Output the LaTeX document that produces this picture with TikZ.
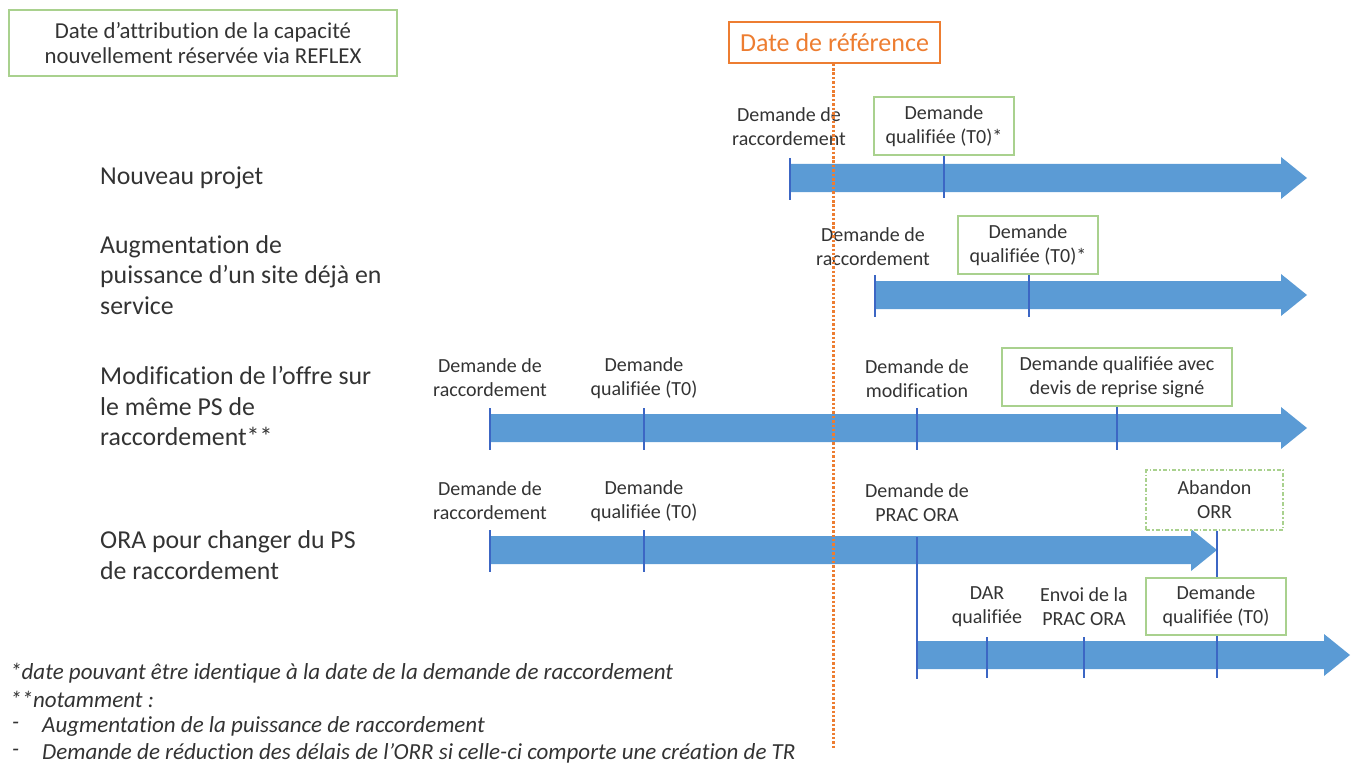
\documentclass[tikz,border=0pt]{standalone}
\usepackage{fontspec}
\setmainfont{Carlito}[Ligatures=NoCommon]
\usetikzlibrary{calc}
\definecolor{barblue}{HTML}{5B9BD5}
\definecolor{tickblue}{HTML}{3C66C4}
\definecolor{boxgreen}{HTML}{A9D18E}
\definecolor{refor}{HTML}{ED7D31}
\definecolor{txt}{HTML}{333333}
\tikzset{
  lbl/.style={text=txt, font=\fontsize{20}{24}\selectfont, align=center, inner sep=0pt},
  rowlbl/.style={text=txt, font=\fontsize{25.8}{30.5}\selectfont, align=left, anchor=west, inner sep=0pt},
  note/.style={text=txt, font=\fontsize{23}{26}\selectfont\itshape, anchor=west, inner sep=0pt},
  gbox/.style={draw=boxgreen, line width=1.6pt, minimum height=58pt, text=txt, font=\fontsize{20}{24}\selectfont, align=center, inner sep=1pt},
  tickln/.style={draw=tickblue, line width=2.2pt},
  bar/.style={fill=barblue},
}
\newcommand\tlbar[4]{% name, start x, y, tip x
  \coordinate (#1s) at (#2,#3);
  \coordinate (#1e) at (#4,#3);
  \fill[bar] (#2,#3-14) -- (#4-26,#3-14) -- (#4-26,#3-21) -- (#4,#3) -- (#4-26,#3+21) -- (#4-26,#3+14) -- (#2,#3+14) -- cycle;
}
\begin{document}
\begin{tikzpicture}[x=1pt,y=-1pt]
\useasboundingbox (0,0) rectangle (1355,765);

% top-left box
\node[draw=boxgreen, line width=1.6pt, minimum width=388pt, minimum height=66pt, text=txt, font=\fontsize{22.8}{25.5}\selectfont, align=center, inner sep=1pt] (reflex) at (203,43) {Date d’attribution de la capacité\\nouvellement réservée via REFLEX};

% reference date
\node[draw=refor, line width=1.4pt, minimum width=211pt, minimum height=41pt, text=refor, font=\fontsize{26}{30}\selectfont, inner sep=1pt] (ref) at (834.5,42.5) {Date de référence};
\coordinate (refbot) at (833,750);

% row labels
\node[rowlbl] (r1) at (100,178) {Nouveau projet};
\node[rowlbl] (r2) at (100,275) {Augmentation de\\puissance d’un site déjà en\\service};
\node[rowlbl] (r3) at (100,406) {Modification de l’offre sur\\le même PS de\\raccordement**};
\node[rowlbl] (r4) at (100,555) {ORA pour changer du PS\\de raccordement};

% ---- Row 1
\tlbar{a}{790}{178}{1307}
\node[lbl] (a1) at (789,127) {Demande de\\raccordement};
\node[gbox, minimum width=140pt] (a2) at (944,126) {Demande\\qualifiée (T0)*};
\draw[tickln] (790,158) -- (790,200);
\draw[tickln] (a2.south) -- (944,198);

% ---- Row 2
\tlbar{b}{875}{295}{1307}
\node[lbl] (b1) at (873,247) {Demande de\\raccordement};
\node[gbox, minimum width=140pt] (b2) at (1028,245) {Demande\\qualifiée (T0)*};
\draw[tickln] (875,275) -- (875,317);
\draw[tickln] (b2.south -| 1029,0) -- (1029,317);

% ---- Row 3
\tlbar{c}{490}{428}{1307}
\node[lbl] (c1) at (490,378) {Demande de\\raccordement};
\node[lbl] (c2) at (644,378) {Demande\\qualifiée (T0)};
\node[lbl] (c3) at (917,379) {Demande de\\modification};
\node[gbox, minimum width=230pt] (c4) at (1117,377) {Demande qualifiée avec\\devis de reprise signé};
\draw[tickln] (490,408) -- (490,450);
\draw[tickln] (644,408) -- (644,450);
\draw[tickln] (917,408) -- (917,450);
\draw[tickln] (c4.south -| 1117,0) -- (1117,450);

% ---- Row 4
\tlbar{d}{490}{550}{1217}
\node[lbl] (d1) at (490,501) {Demande de\\raccordement};
\node[lbl] (d2) at (644,501) {Demande\\qualifiée (T0)};
\node[lbl] (d3) at (917,503) {Demande de\\PRAC ORA};
\node[draw=boxgreen, line width=1.4pt, dash pattern=on 4pt off 2pt on 1.5pt off 2pt, minimum width=137pt, minimum height=60pt, text=txt, font=\fontsize{20}{24}\selectfont, align=center, inner sep=1pt] (d4) at (1214.5,500) {Abandon\\ORR};
\draw[tickln] (490,530) -- (490,572);
\draw[tickln] (644,530) -- (644,572);

% ---- Row 5
\tlbar{e}{917}{655}{1350}
\node[lbl] (e1) at (987,607) {DAR\\qualifiée};
\node[lbl] (e2) at (1084,607) {Envoi de la\\PRAC ORA};
\node[gbox, minimum width=140pt, minimum height=57pt] (e3) at (1216,606.5) {Demande\\qualifiée (T0)};
\draw[tickln] (917,537) -- (917,679);
\draw[tickln] (987,637) -- (987,678);
\draw[tickln] (1084,637) -- (1084,678);
\draw[tickln] (d4.south -| 1217,0) -- (e3.north -| 1217,0);
\draw[tickln] (e3.south -| 1217,0) -- (1217,678);

% reference dotted line (on top)
\draw[refor, line width=3pt, dash pattern=on 2.5pt off 1.9pt] (ref.south -| refbot) -- (refbot);

% notes
\node[note] (n1) at (10,673) {*date pouvant être identique à la date de la demande de raccordement};
\node[note] (n2) at (10,699) {**notamment :};
\node[note] (n3a) at (12,726) {-};
\node[note] (n3) at (42,726) {Augmentation de la puissance de raccordement};
\node[note] (n4a) at (12,753) {-};
\node[note] (n4) at (42,753) {Demande de réduction des délais de l’ORR si celle-ci comporte une création de TR};
\end{tikzpicture}
\end{document}
